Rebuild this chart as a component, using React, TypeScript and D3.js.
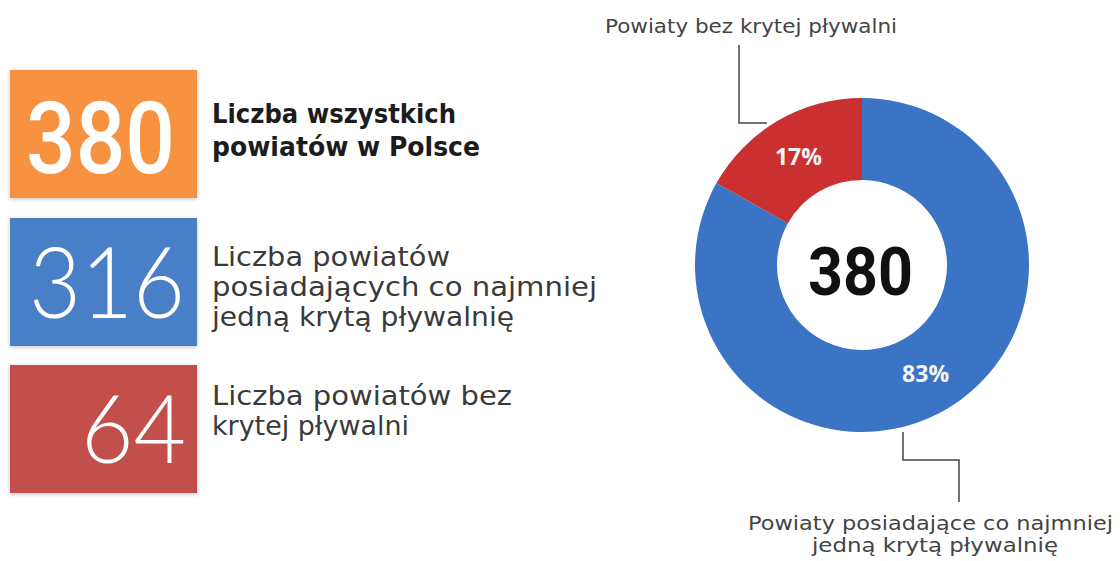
import React from "react";
import * as d3 from "d3";

// ---- data ----
const sliceNames = ["Powiaty posiadające co najmniej jedną krytą pływalnię", "Powiaty bez krytej pływalni"];
const sliceCounts = [316, 64];
const totalCount = 380;
const boxValues = [380, 316, 64];
const boxLabels = [
  ["Liczba wszystkich", "powiatów w Polsce"],
  ["Liczba powiatów", "posiadających co najmniej", "jedną krytą pływalnię"],
  ["Liczba powiatów bez", "krytej pływalni"],
];
const calloutTop = ["Powiaty bez krytej pływalni"];
const calloutBottom = ["Powiaty posiadające co najmniej", "jedną krytą pływalnię"];

// ---- layout / style ----
const W = 1120, H = 561;
const boxColors = ["#F7923F", "#4A7FC6", "#C24F4B"];
const sliceColors = ["#3B74C5", "#C9302F"];
const boxTops = [70, 218, 365];
const boxH = 128, boxX = 10, boxW = 187;
const numLayout = [
  { x0: 26, x1: 175, base: 173, size: 100, weight: 500, family: "Roboto, 'DejaVu Sans', sans-serif" },
  { x0: 29, x1: 185, base: 318, size: 99, weight: 300, family: "Lato, 'Open Sans', sans-serif" },
  { x0: 81, x1: 186, base: 463, size: 95, weight: 300, family: "Lato, 'Open Sans', sans-serif" },
];
const labelLayout = [
  { base: [123, 156], widths: [244, 268], bold: true },
  { base: [266, 296, 326], widths: [238, 385, 302], bold: false },
  { base: [405, 435], widths: [300, 197], bold: false },
];
const labelX = 212;
const cx = 862, cy = 265, R = 167, r = 85;

export default function App() {
  const pie = d3.pie<number>().sort(null).value((d) => d);
  const arcs = pie(sliceCounts);
  const arc = d3.arc<d3.PieArcDatum<number>>().innerRadius(r).outerRadius(R);
  const labelArc = d3.arc<d3.PieArcDatum<number>>().innerRadius((r + R) / 2).outerRadius((r + R) / 2);
  const pct = d3.format(".0%");

  const line = d3.line();

  return (
    <svg width={W} height={H} style={{ position: "absolute", left: 0, top: 0, background: "#fff" }}>
      <defs>
        <filter id="glow" x="-20%" y="-20%" width="140%" height="140%">
          <feGaussianBlur in="SourceAlpha" stdDeviation="2" />
          <feOffset dx="0" dy="1" result="b" />
          <feComponentTransfer><feFuncA type="linear" slope="0.25" /></feComponentTransfer>
          <feMerge><feMergeNode /><feMergeNode in="SourceGraphic" /></feMerge>
        </filter>
      </defs>

      {/* left boxes */}
      {boxValues.map((v, i) => (
        <g key={i}>
          <rect x={boxX} y={boxTops[i]} width={boxW} height={boxH} fill={boxColors[i]} filter="url(#glow)" />
          <text
            x={numLayout[i].x0}
            y={numLayout[i].base}
            fill="#fff"
            fontFamily={numLayout[i].family}
            fontWeight={numLayout[i].weight}
            fontSize={numLayout[i].size}
            textLength={numLayout[i].x1 - numLayout[i].x0}
            lengthAdjust="spacingAndGlyphs"
          >
            {v}
          </text>
          {boxLabels[i].map((t, j) => (
            <text
              key={j}
              x={labelX}
              y={labelLayout[i].base[j]}
              fill={labelLayout[i].bold ? "#1c1c1c" : "#3a3a3a"}
              fontFamily="'DejaVu Sans', sans-serif"
              fontWeight={labelLayout[i].bold ? 700 : 400}
              fontSize={labelLayout[i].bold ? 26 : 27}
              textLength={labelLayout[i].widths[j]}
              lengthAdjust="spacingAndGlyphs"
            >
              {t}
            </text>
          ))}
        </g>
      ))}

      {/* donut */}
      <g transform={`translate(${cx},${cy})`}>
        {arcs.map((a, i) => (
          <path key={i} d={arc(a) as string} fill={sliceColors[i]}>
            <title>{sliceNames[i]}</title>
          </path>
        ))}
        {arcs.map((a, i) => {
          const [lx, ly] = labelArc.centroid(a);
          return (
            <text
              key={"p" + i}
              x={lx}
              y={ly}
              dy="0.36em"
              textAnchor="middle"
              fill="#f4f4f4"
              fontFamily="'Open Sans', 'DejaVu Sans', sans-serif"
              fontWeight={700}
              fontSize={23}
            >
              {pct(sliceCounts[i] / totalCount)}
            </text>
          );
        })}
        <text
          x={-1.5}
          y={30}
          textAnchor="middle"
          fill="#111"
          fontFamily="Roboto, 'DejaVu Sans', sans-serif"
          fontWeight={700}
          fontSize={66}
          textLength={105}
          lengthAdjust="spacingAndGlyphs"
        >
          {totalCount}
        </text>
      </g>

      {/* callout lines */}
      <path
        d={line([[739, 45], [739, 123], [767, 123]]) as string}
        fill="none"
        stroke="#444"
        strokeWidth={1.5}
      />
      <path
        d={line([[903, 432], [903, 460], [959, 460], [959, 502]]) as string}
        fill="none"
        stroke="#444"
        strokeWidth={1.5}
      />

      {/* callout labels */}
      <text
        x={605}
        y={33}
        fill="#444"
        fontFamily="'DejaVu Sans', sans-serif"
        fontSize={20}
        textLength={292}
        lengthAdjust="spacingAndGlyphs"
      >
        {calloutTop[0]}
      </text>
      <text
        x={748}
        y={530}
        fill="#444"
        fontFamily="'DejaVu Sans', sans-serif"
        fontSize={20}
        textLength={365}
        lengthAdjust="spacingAndGlyphs"
      >
        {calloutBottom[0]}
      </text>
      <text
        x={812}
        y={552}
        fill="#444"
        fontFamily="'DejaVu Sans', sans-serif"
        fontSize={20}
        textLength={246}
        lengthAdjust="spacingAndGlyphs"
      >
        {calloutBottom[1]}
      </text>
    </svg>
  );
}
